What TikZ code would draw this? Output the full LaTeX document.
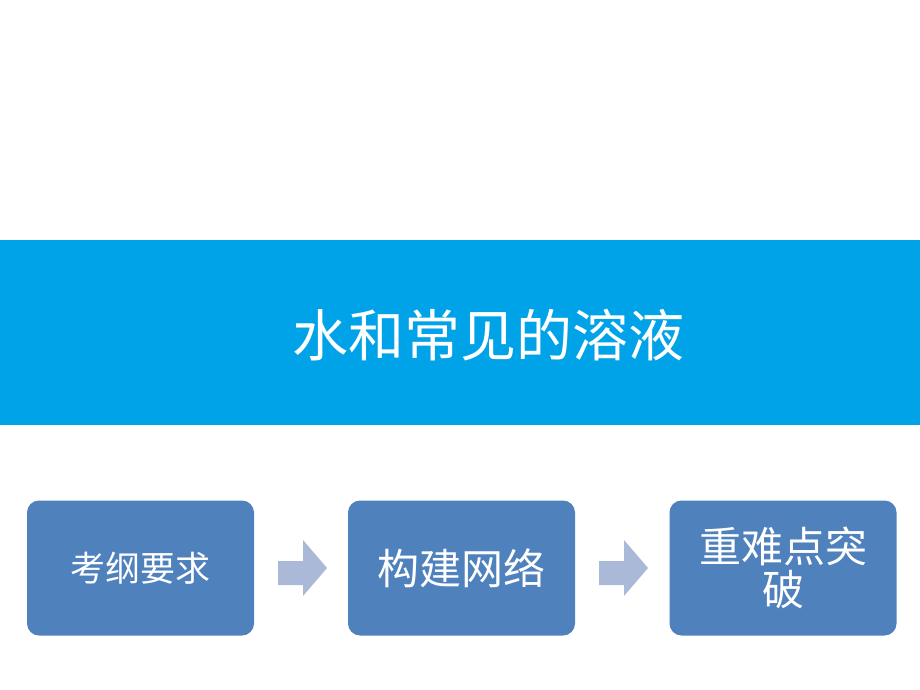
\documentclass[tikz,border=0pt]{standalone}
\usepackage{fontspec}
\newfontfamily\cjk{Noto Sans CJK SC}
\definecolor{banner}{HTML}{00A2E8}
\definecolor{boxblue}{HTML}{4F81BD}
\definecolor{arrowc}{HTML}{A9B9D7}
\begin{document}
\begin{tikzpicture}[x=1pt,y=-1pt,
  stepbox/.style={draw=none,fill=boxblue,rounded corners=12pt,minimum width=227pt,minimum height=135pt,text=white,font=\cjk,align=center,inner sep=0pt}]
\useasboundingbox (0,0) rectangle (920,690);
\fill[white] (0,0) rectangle (920,690);
\fill[banner] (0,240) rectangle (920,425);
\node[text=white,font=\cjk\fontsize{56}{60}\selectfont,inner sep=0pt] (title) at (488,335) {水和常见的溶液};
\node[stepbox,font=\cjk\fontsize{35}{40}\selectfont] (b1) at (140.5,568) {考纲要求};
\node[stepbox,font=\cjk\fontsize{42}{44}\selectfont] (b2) at (461.5,568) {构建网络};
\node[stepbox,font=\cjk\fontsize{42}{43}\selectfont] (b3) at (783,568) {重难点突\\破};
\fill[arrowc] (278,561) -- (303,561) -- (303,540) -- (327,568) -- (303,596) -- (303,585) -- (278,585) -- cycle;
\fill[arrowc] (599,561) -- (624,561) -- (624,540) -- (648,568) -- (624,596) -- (624,585) -- (599,585) -- cycle;
\end{tikzpicture}
\end{document}
